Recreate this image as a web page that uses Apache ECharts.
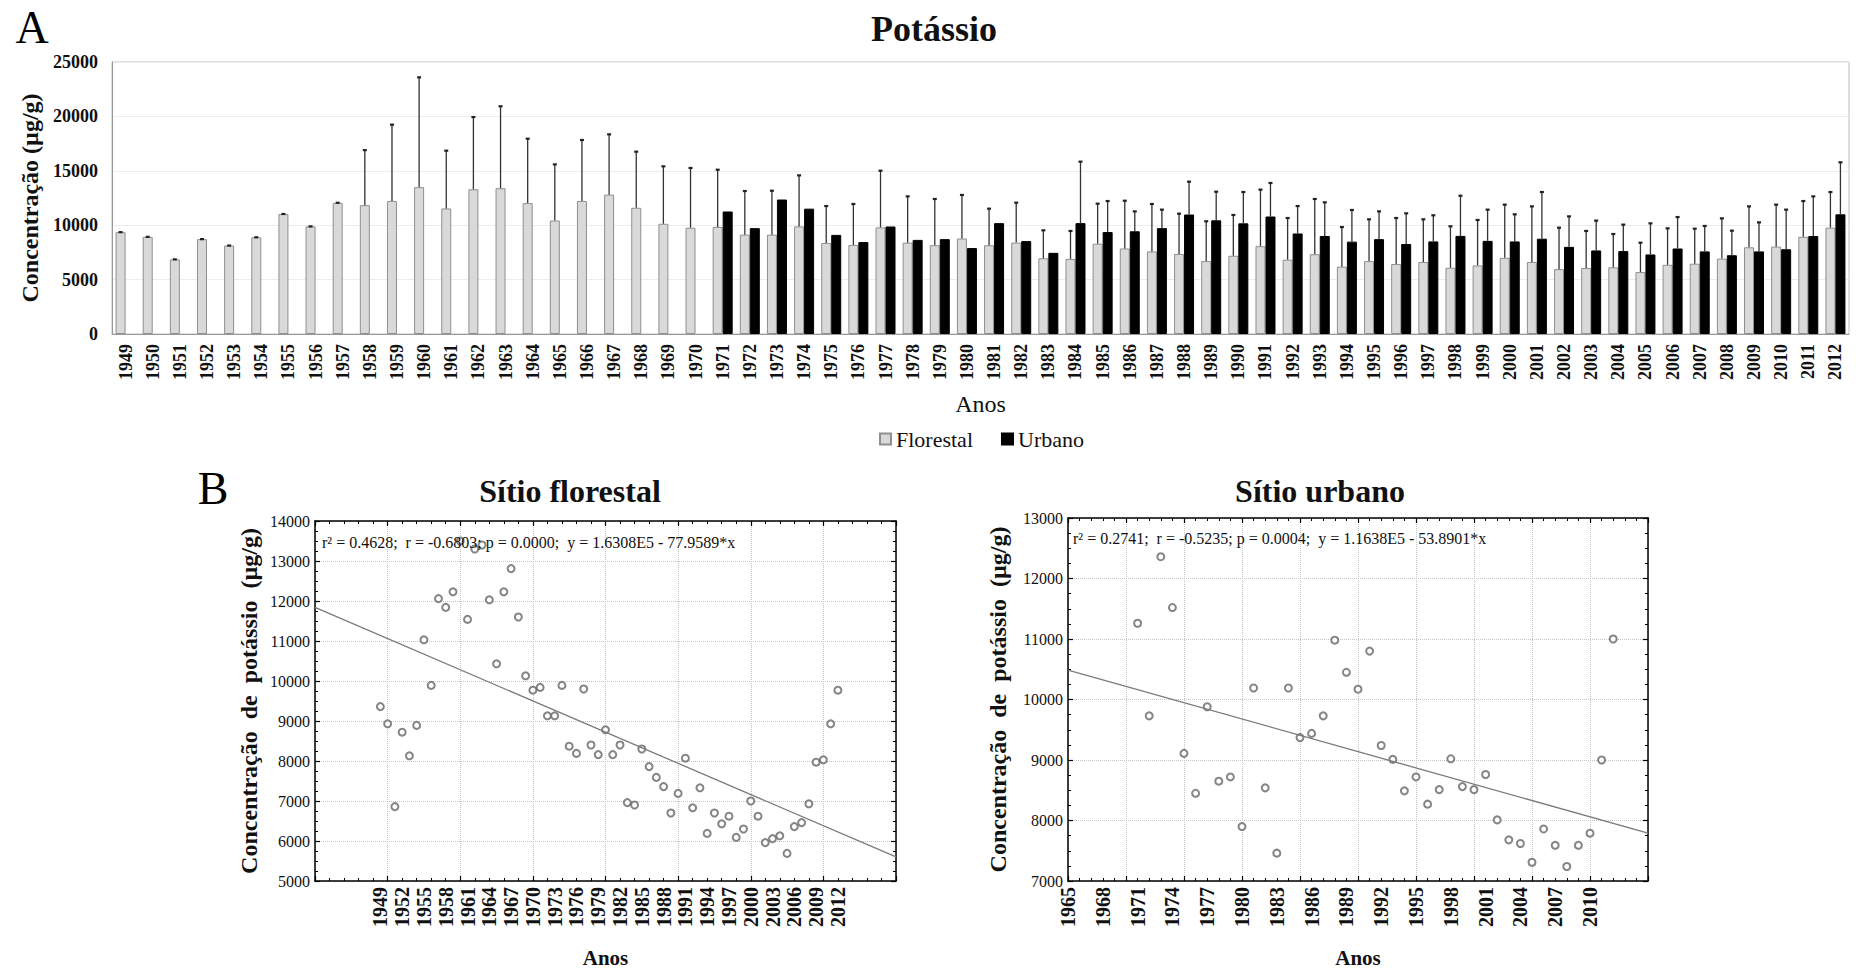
<!DOCTYPE html>
<html lang="pt">
<head>
<meta charset="UTF-8">
<title>Potássio</title>
<script src="https://cdn.jsdelivr.net/npm/echarts@6/dist/echarts.min.js"></script>
<style>html,body{margin:0;padding:0;background:#fff;}</style>
</head>
<body>
<div id="main" style="width:1856px;height:969px;"></div>
<script>
// anos de cada barra
var anos = ['1949','1950','1951','1952','1953','1954','1955','1956','1957','1958',
    '1959','1960','1961','1962','1963','1964','1965','1966','1967','1968',
    '1969','1970','1971','1972','1973','1974','1975','1976','1977','1978',
    '1979','1980','1981','1982','1983','1984','1985','1986','1987','1988',
    '1989','1990','1991','1992','1993','1994','1995','1996','1997','1998',
    '1999','2000','2001','2002','2003','2004','2005','2006','2007','2008',
    '2009','2010','2011','2012'];

// média (µg/g)
var florestal = [9360, 8930, 6860, 8720, 8130, 8890, 11030, 9890, 12060, 11840,
    12230, 13500, 11540, 13300, 13400, 12030, 10430, 12230, 12810, 11600,
    10130, 9770, 9840, 9130, 9130, 9890, 8370, 8190, 9800, 8400,
    8160, 8780, 8160, 8400, 6960, 6900, 8300, 7860, 7590, 7360,
    6700, 7190, 8070, 6830, 7330, 6190, 6700, 6430, 6620, 6090,
    6300, 7000, 6620, 5960, 6060, 6130, 5690, 6360, 6460, 6930,
    7970, 8030, 8930, 9770];
var urbano = [null, null, null, null, null, null, null, null, null, null,
    null, null, null, null, null, null, null, null, null, null,
    null, null, 11260, 9730, 12360, 11520, 9110, 8450, 9880, 8650,
    8720, 7900, 10190, 8540, 7460, 10190, 9370, 9440, 9730, 10980,
    10450, 10170, 10800, 9240, 9010, 8490, 8720, 8270, 8510, 9020,
    8560, 8510, 8760, 8010, 7680, 7620, 7310, 7860, 7590, 7240,
    7590, 7790, 9000, 11000];

// desvio padrão (barra de erro superior)
var sdFlorestal = [0, 0, 0, 0, 0, 0, 0, 0, 0, 5060,
    7010, 10090, 5310, 6640, 7530, 5920, 5160, 5600, 5540, 5160,
    5280, 5490, 5260, 4010, 4040, 4690, 3390, 3760, 5210, 4250,
    4250, 4000, 3360, 3670, 2570, 2570, 3680, 4390, 4360, 3700,
    3660, 3750, 5200, 3830, 5080, 3640, 3840, 4230, 3920, 3810,
    4180, 4890, 5110, 3810, 3410, 3060, 2700, 3350, 3220, 3700,
    3760, 3860, 3290, 3280];
var sdUrbano = [null, null, null, null, null, null, null, null, null, null,
    null, null, null, null, null, null, null, null, null, null,
    null, null, null, null, null, null, null, null, null, null,
    null, null, null, null, null, 5650, 2850, 1830, 1700, 3020,
    2630, 2880, 3080, 2520, 3090, 2910, 2550, 2820, 2400, 3690,
    2870, 2490, 4290, 2800, 2740, 2430, 2860, 2890, 2340, 2260,
    2670, 3640, 3650, 4780];

// rótulos do eixo x dos gráficos de dispersão
var rotulosFlorestal = [1949, 1952, 1955, 1958, 1961, 1964, 1967, 1970, 1973, 1976, 1979,
    1982, 1985, 1988, 1991, 1994, 1997, 2000, 2003, 2006, 2009, 2012];
var rotulosUrbano = [1965, 1968, 1971, 1974, 1977, 1980, 1983, 1986, 1989, 1992, 1995,
    1998, 2001, 2004, 2007, 2010];

// regressões: y = a + b*x
var interceptos = [163080, 116380];
var inclinacoes = [-77.9589, -53.8901];
var equacoes = ['r² = 0.4628;  r = -0.6803; p = 0.0000;  y = 1.6308E5 - 77.9589*x',
    'r² = 0.2741;  r = -0.5235; p = 0.0004;  y = 1.1638E5 - 53.8901*x'];

var serif = "'Liberation Serif', 'Times New Roman', serif";
var chart = echarts.init(document.getElementById('main'), null, {renderer: 'svg'});

function pares(valores) {
    var out = [];
    for (var i = 0; i < anos.length; i++) {
        if (valores[i] != null) out.push([Number(anos[i]), valores[i]]);
    }
    return out;
}
function erros(valores, sd) {
    var out = [];
    for (var i = 0; i < anos.length; i++) {
        if (valores[i] != null && sd[i] != null) out.push([anos[i], valores[i], sd[i]]);
    }
    return out;
}
function reta(k, x0, x1) {
    return [[x0, interceptos[k] + inclinacoes[k] * x0], [x1, interceptos[k] + inclinacoes[k] * x1]];
}
function errorItem(offset) {
    return function (params, api) {
        var m = api.value(1), sd = api.value(2);
        var p0 = api.coord([api.value(0), m]);
        var p1 = api.coord([api.value(0), m + sd]);
        var x = p0[0] + offset;
        return {
            type: 'group',
            children: [
                {type: 'line', shape: {x1: x, y1: p0[1], x2: x, y2: p1[1]},
                    style: {stroke: '#333', lineWidth: 1.3}},
                {type: 'line', shape: {x1: x - 2, y1: p1[1], x2: x + 2, y2: p1[1]},
                    style: {stroke: '#222', lineWidth: 2.2}}
            ]
        };
    };
}
function fmt(v) { return String(v); }

function eixoX(grid, min, max, step, rotulos, bottom) {
    return {
        type: 'value', gridIndex: grid, min: min, max: max, interval: step,
        position: bottom ? 'bottom' : 'top',
        axisLine: {onZero: false, lineStyle: {color: '#000', width: 1.5}},
        axisTick: {show: true, inside: true, length: 5, lineStyle: {color: '#000', width: 1.2}},
        minorTick: {show: true, splitNumber: 5, length: 3, lineStyle: {color: '#000', width: 1}},
        axisLabel: bottom ? {show: true, customValues: rotulos, rotate: 90, margin: 6, formatter: fmt,
            fontFamily: serif, fontWeight: 'bold', fontSize: 20, color: '#111'} : {show: false},
        splitLine: {show: bottom, lineStyle: {color: '#c4c4c4', type: 'dotted', width: 1}},
        name: bottom ? 'Anos' : '', nameLocation: 'middle', nameGap: 66,
        nameTextStyle: {fontFamily: serif, fontWeight: 'bold', fontSize: 21, color: '#111'}
    };
}
function eixoY(grid, min, max, left, gap) {
    return {
        type: 'value', gridIndex: grid, min: min, max: max, interval: 1000,
        position: left ? 'left' : 'right',
        axisLine: {show: true, onZero: false, lineStyle: {color: '#000', width: 1.5}},
        axisTick: {show: true, inside: true, length: 5, lineStyle: {color: '#000', width: 1.2}},
        minorTick: {show: true, splitNumber: 4, length: 3, lineStyle: {color: '#000', width: 1}},
        axisLabel: left ? {show: true, margin: 5, formatter: fmt, fontFamily: serif,
            fontSize: 16, color: '#111'} : {show: false},
        splitLine: {show: left, lineStyle: {color: '#c4c4c4', type: 'dotted', width: 1}},
        name: left ? 'Concentração  de  potássio  (µg/g)' : '', nameLocation: 'middle', nameGap: gap,
        nameTextStyle: {fontFamily: serif, fontWeight: 'bold', fontSize: 24, color: '#111'}
    };
}

var option = {
    backgroundColor: '#fff',
    animation: false,
    textStyle: {fontFamily: serif},
    grid: [
        {left: 112, top: 62, width: 1737, height: 272, show: true, borderColor: '#bdbdbd', borderWidth: 1},
        {left: 315, top: 521, width: 581, height: 368},
        {left: 1068, top: 518, width: 580, height: 370}
    ],
    legend: {
        data: ['Florestal', 'Urbano'], left: 874, top: 423, icon: 'rect',
        itemWidth: 11, itemHeight: 11, itemGap: 28, selectedMode: false,
        textStyle: {fontFamily: serif, fontSize: 22, color: '#111'}
    },
    xAxis: [
        {
            type: 'category', gridIndex: 0, data: anos,
            axisLine: {lineStyle: {color: '#999'}},
            axisTick: {show: false},
            axisLabel: {interval: 0, rotate: 90, margin: 10, fontFamily: serif, fontWeight: 'bold',
                fontSize: 18, color: '#111'},
            name: 'Anos', nameLocation: 'middle', nameGap: 58,
            nameTextStyle: {fontFamily: serif, fontSize: 24, color: '#111'}
        },
        eixoX(1, 1940, 2020, 10, rotulosFlorestal, true),
        eixoX(1, 1940, 2020, 10, rotulosFlorestal, false),
        eixoX(2, 1965, 2015, 5, rotulosUrbano, true),
        eixoX(2, 1965, 2015, 5, rotulosUrbano, false)
    ],
    yAxis: [
        {
            type: 'value', gridIndex: 0, min: 0, max: 25000, interval: 5000,
            axisLine: {show: true, lineStyle: {color: '#999'}},
            axisTick: {show: false},
            axisLabel: {margin: 14, formatter: fmt, fontFamily: serif, fontWeight: 'bold',
                fontSize: 18, color: '#111'},
            splitLine: {lineStyle: {color: '#ececec'}},
            name: 'Concentração (µg/g)', nameLocation: 'middle', nameGap: 70,
            nameTextStyle: {fontFamily: serif, fontWeight: 'bold', fontSize: 24, color: '#111'}
        },
        eixoY(1, 5000, 14000, true, 54),
        eixoY(1, 5000, 14000, false, 0),
        eixoY(2, 7000, 13000, true, 58),
        eixoY(2, 7000, 13000, false, 0)
    ],
    series: [
        {
            name: 'Florestal', type: 'bar', xAxisIndex: 0, yAxisIndex: 0, data: florestal,
            barWidth: 10, barGap: '0%',
            itemStyle: {color: '#d9d9d9', borderColor: '#8f8f8f', borderWidth: 1}
        },
        {
            name: 'Urbano', type: 'bar', xAxisIndex: 0, yAxisIndex: 0, data: urbano,
            barWidth: 10, barGap: '0%',
            itemStyle: {color: '#000', borderColor: '#000', borderWidth: 1}
        },
        {
            name: 'erro florestal', type: 'custom', xAxisIndex: 0, yAxisIndex: 0, z: 5,
            renderItem: errorItem(-5), data: erros(florestal, sdFlorestal), silent: true
        },
        {
            name: 'erro urbano', type: 'custom', xAxisIndex: 0, yAxisIndex: 0, z: 5,
            renderItem: errorItem(5), data: erros(urbano, sdUrbano), silent: true
        },
        {
            name: 'reta florestal', type: 'line', xAxisIndex: 1, yAxisIndex: 1,
            data: reta(0, 1940, 2020), showSymbol: false, silent: true,
            lineStyle: {color: '#7a7a7a', width: 1.3}
        },
        {
            name: 'pontos florestal', type: 'scatter', xAxisIndex: 1, yAxisIndex: 1,
            data: pares(florestal), symbol: 'emptyCircle', symbolSize: 7,
            itemStyle: {color: '#666', borderWidth: 1}
        },
        {
            name: 'reta urbano', type: 'line', xAxisIndex: 3, yAxisIndex: 3,
            data: reta(1, 1965, 2015), showSymbol: false, silent: true,
            lineStyle: {color: '#7a7a7a', width: 1.3}
        },
        {
            name: 'pontos urbano', type: 'scatter', xAxisIndex: 3, yAxisIndex: 3,
            data: pares(urbano), symbol: 'emptyCircle', symbolSize: 7,
            itemStyle: {color: '#666', borderWidth: 1}
        }
    ],
    graphic: [
        {type: 'text', x: 32, y: 27, z: 10, style: {text: 'A', fontFamily: serif, fontSize: 46,
            fill: '#000', align: 'center', verticalAlign: 'middle'}},
        {type: 'text', x: 934, y: 29, z: 10, style: {text: 'Potássio', fontFamily: serif, fontSize: 36,
            fontWeight: 'bold', fill: '#111', align: 'center', verticalAlign: 'middle'}},
        {type: 'text', x: 213, y: 488, z: 10, style: {text: 'B', fontFamily: serif, fontSize: 46,
            fill: '#000', align: 'center', verticalAlign: 'middle'}},
        {type: 'text', x: 570, y: 491, z: 10, style: {text: 'Sítio florestal', fontFamily: serif, fontSize: 32,
            fontWeight: 'bold', fill: '#111', align: 'center', verticalAlign: 'middle'}},
        {type: 'text', x: 1320, y: 491, z: 10, style: {text: 'Sítio urbano', fontFamily: serif, fontSize: 32,
            fontWeight: 'bold', fill: '#111', align: 'center', verticalAlign: 'middle'}},
        {type: 'text', x: 322, y: 542, z: 10, style: {text: equacoes[0], fontFamily: serif, fontSize: 16,
            fill: '#111', align: 'left', verticalAlign: 'middle'}},
        {type: 'text', x: 1073, y: 538, z: 10, style: {text: equacoes[1], fontFamily: serif, fontSize: 16,
            fill: '#111', align: 'left', verticalAlign: 'middle'}}
    ]
};

chart.setOption(option);
</script>
</body>
</html>
